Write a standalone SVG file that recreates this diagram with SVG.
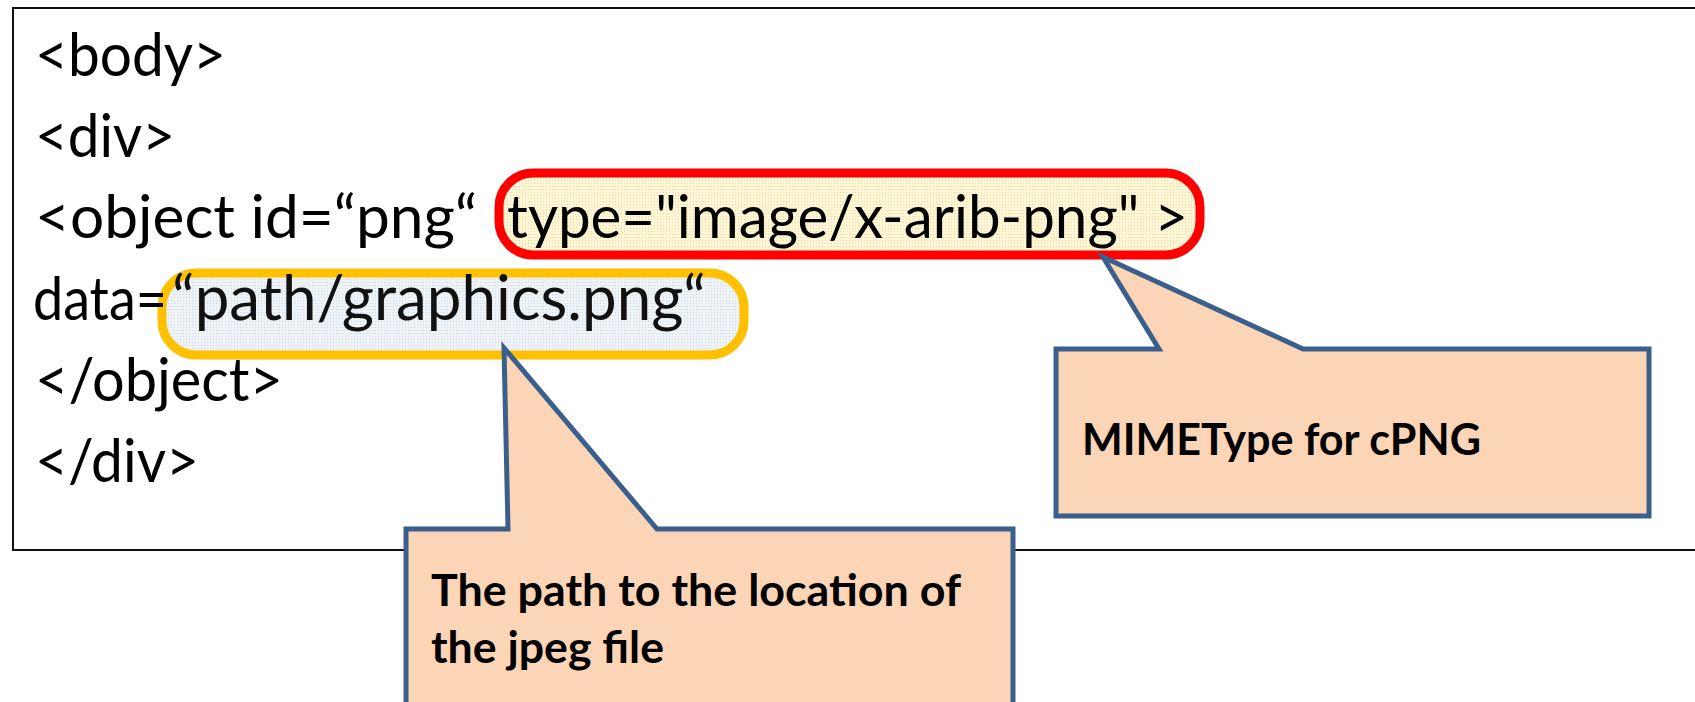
<svg xmlns="http://www.w3.org/2000/svg" width="1695" height="702" viewBox="0 0 1695 702">
<defs>
<style>
.code{font-family:Lato,"Noto Sans",sans-serif;font-size:60px;fill:#000}
.big{font-size:61px;fill:#111}
.note{font-family:Lato,"Noto Sans",sans-serif;font-size:43px;font-weight:bold;fill:#000}
.callout{fill:#FBD5B5;stroke:#3B5F8C;stroke-width:5;stroke-linejoin:miter}
</style>
<pattern id="dotY" width="3" height="3" patternUnits="userSpaceOnUse">
<rect width="3" height="3" fill="#FFF6D6"/>
<rect width="1" height="1" fill="#E8D9A8"/>
</pattern>
<pattern id="dotB" width="3" height="3" patternUnits="userSpaceOnUse">
<rect width="3" height="3" fill="#EEF3F8"/>
<rect width="1" height="1" fill="#CFD8E2"/>
</pattern>
</defs>
<g id="frame">
<rect x="13" y="8" width="1700" height="542" fill="#fff" stroke="#111" stroke-width="2"/>
</g>
<g id="hl-type">
<rect x="499" y="173" width="701" height="82" rx="34" fill="url(#dotY)" stroke="#FF0000" stroke-width="9"/>
</g>
<g id="hl-data">
<rect x="162" y="273" width="582" height="82" rx="34" fill="url(#dotB)" stroke="#FFC000" stroke-width="9"/>
</g>
<g id="code">
<text class="code" x="35" y="76" textLength="191" lengthAdjust="spacingAndGlyphs">&lt;body&gt;</text>
<text class="code" x="35" y="157" textLength="140" lengthAdjust="spacingAndGlyphs">&lt;div&gt;</text>
<text class="code" x="35" y="238" textLength="442" lengthAdjust="spacingAndGlyphs">&lt;object id=“png“</text>
<text class="code" x="507" y="238" textLength="681" lengthAdjust="spacingAndGlyphs">type="image/x-arib-png" &gt;</text>
<text class="code" x="33" y="320" textLength="134" lengthAdjust="spacingAndGlyphs">data=</text>
<text class="code big" x="172" y="320" textLength="534" lengthAdjust="spacingAndGlyphs">“path/graphics.png“</text>
<text class="code" x="35" y="401" textLength="248" lengthAdjust="spacingAndGlyphs">&lt;/object&gt;</text>
<text class="code" x="35" y="482" textLength="164" lengthAdjust="spacingAndGlyphs">&lt;/div&gt;</text>
</g>
<g id="connectors"></g>
<g id="callout-path">
<path class="callout" d="M406,529 L508,529 L504,348 L657,529 L1013,529 L1013,712 L406,712 Z"/>
<text class="note" x="431" y="606" textLength="530" lengthAdjust="spacingAndGlyphs">The path to the location of</text>
<text class="note" x="431" y="663" textLength="233" lengthAdjust="spacingAndGlyphs">the jpeg file</text>
</g>
<g id="callout-mime">
<path class="callout" d="M1056,349 L1159,349 L1103,257 L1303,349 L1649,349 L1649,516 L1056,516 Z"/>
<text class="note" x="1082" y="455" textLength="399" lengthAdjust="spacingAndGlyphs">MIMEType for cPNG</text>
</g>
</svg>
